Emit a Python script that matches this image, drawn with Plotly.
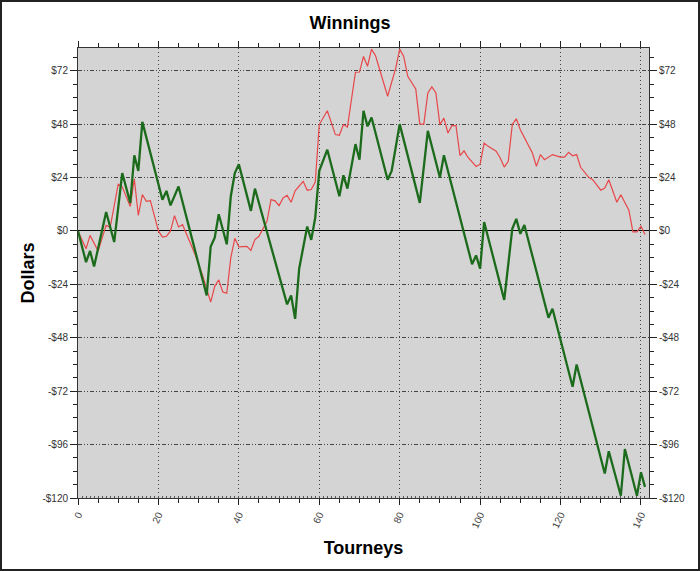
import plotly.graph_objects as go

# Green series (vertices of the cumulative winnings line)
green_x = [0, 2, 3, 4, 7, 9, 11, 13, 14, 15, 16, 21, 22, 23, 25, 32, 33, 34, 35, 37, 38, 39, 40,
           43, 44, 52, 53, 54, 55, 57, 58, 59, 60, 62, 65, 66, 67, 69, 70, 71, 72, 73, 77, 78, 80,
           85, 87, 90, 91, 98, 99, 100, 101, 106, 108, 109, 110, 111, 117, 118, 123, 124, 131, 132,
           135, 136, 139, 140, 141]
green_y = [0, -14, -9, -16, 8.5, -5, 26, 12.6, 34, 27, 49, 14, 18, 11.5, 20, -29, -7, -3, 7.5, -6, 15.6, 26, 30,
           9, 19, -33, -29, -39.5, -17, 2, -4, 6, 27, 36.5, 15.6, 25, 19, 39, 32, 54, 47, 51, 23, 27, 48,
           12.6, 45, 24, 34, -15, -11, -17, 4, -31, 1, 5.4, -1.3, 2.7, -39, -35, -70, -60, -109, -99,
           -119, -98, -119, -108.5, -115]

# Red series
red_x = [0, 2, 3, 5, 7, 8, 10, 11, 13, 14, 15, 16, 17, 18, 20, 21, 22, 23, 24, 25, 26, 29, 31, 32, 33,
         34, 35, 36, 37, 38, 39, 40, 42, 43, 44, 45, 47, 48, 49, 50, 51, 52, 53, 54, 56, 57, 58, 59, 60,
         62, 64, 65, 66, 67, 69, 70, 71, 72, 73, 74, 77, 79, 80, 81, 82, 84, 85, 86, 87, 88, 89, 90,
         91, 92, 93, 94, 95, 96, 97, 99, 100, 101, 102, 104, 105, 106, 107, 108, 109, 110, 113, 114,
         115, 116, 118, 120, 121, 122, 123, 124, 125, 127, 128, 130, 131, 132, 134, 135, 137, 138,
         139, 140, 141]
red_y = [0, -8, -2, -9, 2.5, 1.6, 21, 19.8, 11, 23.4, 7, 16.3, 13.3, 13.6, 0, -2.8, -2.4, 0, 6.9, 1.8, 2.8,
         -10, -20, -26.3, -32, -24.9, -22, -27.4, -28, -12, -3.3, -7.2, -6.9, -8.7, -3.9, -2.4, 4.3, 14.1,
         13.5, 11.4, 14.8, 16, 12.9, 18, 22.3, 18.3, 18.6, 22, 47.8,
         54, 43.3, 43, 47.8, 46.7, 71.3, 71.4, 78.4, 74, 81.7, 78.7, 60.5, 73, 81.7, 78.4, 69.5, 63.8,
         48, 48, 62, 64.7, 62, 47.8, 50.7, 44, 47.3, 47.3, 33.8, 36, 33, 29, 30, 39.5, 38, 35.8,
         32.8, 28.7, 31.3, 47.8, 50.4, 45.5, 35, 29, 34.3, 32, 34.3, 33.2, 33.2, 35.3, 33.8,
         34.3, 28.6, 24.1, 23, 18.3, 19.3, 23, 12.9, 16.3, 9.3, -0.4, -0.4, 2.1, -1.6]

x_ticks = [0, 20, 40, 60, 80, 100, 120, 140]
y_ticks = [-120, -96, -72, -48, -24, 0, 24, 48, 72]
y_tick_labels = ["-$120", "-$96", "-$72", "-$48", "-$24", "$0", "$24", "$48", "$72"]

title_text = "Winnings"
x_title = "Tourneys"
y_title = "Dollars"

XR = [0, 142]
YR = [-120, 82.2]

fig = go.Figure()
fig.add_trace(go.Scatter(x=red_x, y=red_y, mode="lines",
                         line=dict(color="#e8474a", width=1.2), showlegend=False))
fig.add_trace(go.Scatter(x=green_x, y=green_y, mode="lines",
                         line=dict(color="#1c6b1c", width=2.3), showlegend=False))
# dummy trace to carry the secondary axes (right labels, dense bottom ticks)
fig.add_trace(go.Scatter(x=[None], y=[None], xaxis="x2", yaxis="y2",
                         showlegend=False, hoverinfo="skip"))

tickfont = dict(family="Liberation Sans, Arial, sans-serif", size=10, color="#333333")
axtitlefont = dict(family="Liberation Sans, Arial, sans-serif", size=18, color="#000000")

fig.update_layout(
    width=700, height=571,
    margin=dict(l=78, r=51, t=48, b=73),
    paper_bgcolor="white",
    plot_bgcolor="#d4d4d4",
    title=dict(text="<b>" + title_text + "</b>", x=0.5, xanchor="center", y=0.961, yanchor="middle",
               font=dict(family="Liberation Sans, Arial, sans-serif", size=18, color="#000")),
    xaxis=dict(range=XR, tickmode="array", tickvals=x_ticks, ticktext=[str(v) for v in x_ticks],
               tickangle=-65, tickfont=dict(family="Liberation Sans, Arial, sans-serif", size=10, color="#444"),
               showgrid=True, gridcolor="#444", gridwidth=1, griddash="1px,3px",
               ticks="outside", ticklen=6, tickcolor="#222", showline=True, linecolor="#333",
               linewidth=1, mirror="ticks", zeroline=False, automargin=False,
               minor=dict(dtick=5, ticks="outside", ticklen=4, tickcolor="#222", showgrid=False),
               title=dict(text="<b>" + x_title + "</b>", font=axtitlefont, standoff=12)),
    yaxis=dict(range=YR, tickmode="array", tickvals=y_ticks, ticktext=y_tick_labels,
               tickfont=tickfont, showgrid=True, gridcolor="#444", gridwidth=1,
               griddash="4px,2px,1px,2px,1px,2px",
               ticks="outside", ticklen=7, tickcolor="#222", showline=True, linecolor="#333",
               linewidth=1, mirror=True, zeroline=True, zerolinecolor="#000", zerolinewidth=1.3,
               automargin=False,
               minor=dict(dtick=6, tick0=0, ticks="outside", ticklen=4, tickcolor="#222", showgrid=False),
               title=dict(text="<b>" + y_title + "</b>", font=axtitlefont, standoff=3)),
    xaxis2=dict(range=XR, overlaying="x", side="bottom", showgrid=False, showticklabels=False,
                tickmode="linear", tick0=0, dtick=1, ticks="inside", ticklen=2, tickcolor="#555",
                zeroline=False, showline=False, automargin=False),
    yaxis2=dict(range=YR, overlaying="y", side="right", tickmode="array", tickvals=y_ticks,
                ticktext=y_tick_labels, tickfont=tickfont, showgrid=False, zeroline=False,
                ticks="outside", ticklen=7, tickcolor="#222", showline=False, automargin=False,
                minor=dict(dtick=6, tick0=0, ticks="outside", ticklen=4, tickcolor="#222", showgrid=False)),
)

# outer frame of the picture
W, H = 571.0, 450.0
fig.add_shape(type="rect", xref="paper", yref="paper",
              x0=(-78 + 1) / W, x1=(571 + 51 - 1) / W, y0=(-73 + 1) / H, y1=(450 + 48 - 1) / H,
              line=dict(color="#222", width=2), fillcolor="rgba(0,0,0,0)", layer="above")

fig.write_html("out.html", config={"displayModeBar": False},
               post_script="document.body.style.margin='0';document.body.style.overflow='hidden';")
